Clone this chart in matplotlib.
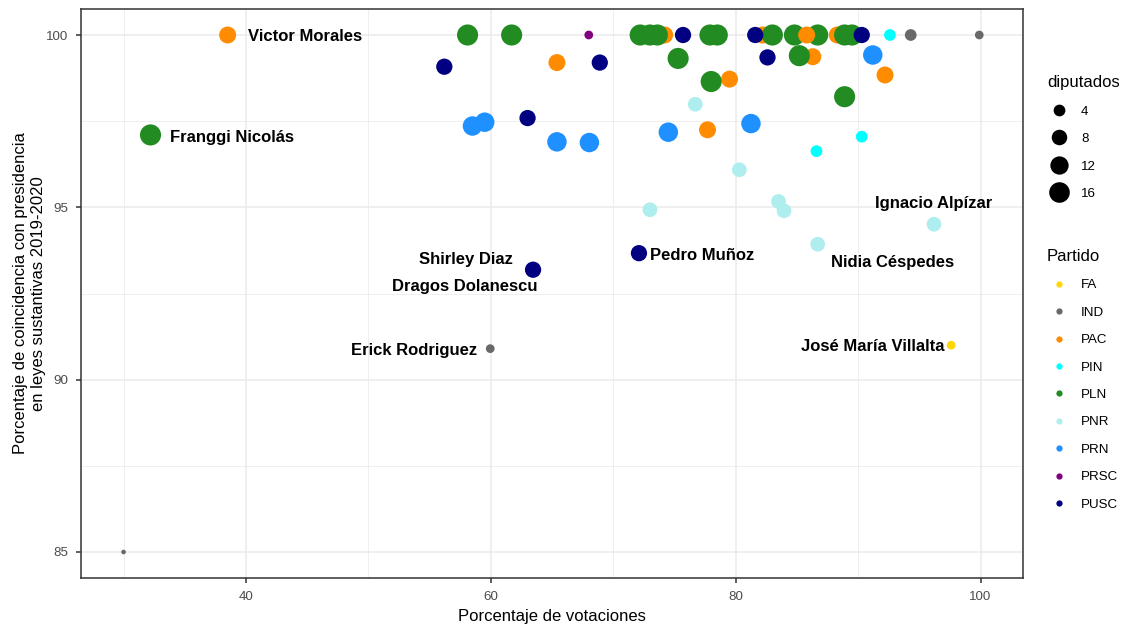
import matplotlib
matplotlib.use("Agg")
import matplotlib.pyplot as plt
from matplotlib.lines import Line2D
import numpy as np

# ---------------- data ----------------
party = ["PAC", "PAC", "PAC", "PAC", "PAC", "PAC", "PAC", "PAC", "PAC",
         "PLN", "PLN", "PLN", "PLN", "PLN", "PLN", "PLN", "PLN", "PLN",
         "PLN", "PLN", "PLN", "PLN", "PLN", "PLN", "PLN", "PLN",
         "PAC",
         "PUSC", "PUSC", "PUSC", "PUSC", "PUSC", "PUSC", "PUSC", "PUSC", "PUSC",
         "PRN", "PRN", "PRN", "PRN", "PRN", "PRN", "PRN",
         "PNR", "PNR", "PNR", "PNR", "PNR", "PNR", "PNR",
         "PIN", "PIN", "PIN",
         "FA", "PRSC", "IND", "IND", "IND", "IND"]
votes = [38.5, 74.2, 82.2, 88.3, 65.4, 86.3, 92.2, 79.5, 77.7,
         58.1, 61.7, 72.2, 73.0, 73.6, 77.9, 78.5, 83.0, 84.8,
         86.7, 88.9, 89.5, 75.3, 85.2, 78.0, 88.9, 32.2,
         85.8,
         75.7, 81.6, 90.3, 56.2, 68.9, 82.6, 63.0, 72.1, 63.45,
         91.2, 74.5, 81.25, 58.5, 59.5, 65.4, 68.05,
         76.7, 80.3, 83.5, 83.95, 73.0, 86.7, 96.2,
         92.6, 90.3, 86.6,
         97.6, 68.0, 94.3, 99.9, 59.95, 30.0]
coincidencia = [100.0, 100.0, 100.0, 100.0, 99.2, 99.37, 98.84, 98.72, 97.25,
                100.0, 100.0, 100.0, 100.0, 100.0, 100.0, 100.0, 100.0, 100.0,
                100.0, 100.0, 100.0, 99.32, 99.4, 98.65, 98.21, 97.1,
                100.0,
                100.0, 100.0, 100.0, 99.08, 99.2, 99.35, 97.59, 93.67, 93.19,
                99.42, 97.18, 97.43, 97.36, 97.47, 96.9, 96.88,
                97.99, 96.09, 95.17, 94.9, 94.93, 93.93, 94.51,
                100.0, 97.05, 96.63,
                91.0, 100.0, 100.0, 100.0, 90.9, 85.0]
diputados = [10, 10, 10, 10, 10, 10, 10, 10, 10,
             17, 17, 17, 17, 17, 17, 17, 17, 17,
             17, 17, 17, 17, 17, 17, 17, 17,
             10,
             9, 9, 9, 9, 9, 9, 9, 9, 9,
             14, 14, 14, 14, 14, 14, 14,
             7, 7, 7, 7, 7, 7, 7,
             4, 4, 4,
             2, 2, 4, 2, 2, 1]

party_levels = ["FA", "IND", "PAC", "PIN", "PLN", "PNR", "PRN", "PRSC", "PUSC"]
party_colors = ["#FFD700", "#696969", "#FF8C00", "#00FFFF", "#228B22",
                "#AFEEEE", "#1E90FF", "#800080", "#000080"]
size_breaks = [4, 8, 12, 16]

label_names = ["Victor Morales", "Franggi Nicolás", "Shirley Diaz",
               "Dragos Dolanescu", "Erick Rodriguez", "Pedro Muñoz",
               "Nidia Céspedes", "Ignacio Alpízar", "José María Villalta"]
label_x = [44.86, 38.86, 58.0, 57.88, 53.76, 77.27, 92.78, 96.16, 91.22]
label_y = [99.97, 97.04, 93.48, 92.70, 90.84, 93.59, 93.39, 95.10, 90.96]

# ---------------- styling ----------------
W, H = 1127, 625
plt.rcParams["font.family"] = ["Liberation Sans", "DejaVu Sans"]
fig = plt.figure(figsize=(W / 100, H / 100), dpi=100)

xlim = (26.5, 103.5)
ylim = (84.25, 100.75)
px_x = lambda v: 246 + (v - 40) * (980.5 - 246) / 60
px_y = lambda v: 35 + (100 - v) * (552 - 35) / 15
left, right = px_x(xlim[0]), px_x(xlim[1])
top, bottom = px_y(ylim[1]), px_y(ylim[0])
ax = fig.add_axes([left / W, 1 - bottom / H, (right - left) / W, (bottom - top) / H])

dmin, dmax = min(diputados), max(diputados)


def dot_px(d):
    size = 1 + 5 * np.sqrt((np.asarray(d, float) - dmin) / (dmax - dmin))
    return 3.3 * size + 1.3


cmap = dict(zip(party_levels, party_colors))
cols = [cmap[p] for p in party]
ax.scatter(votes, coincidencia, s=(dot_px(diputados) * 0.72) ** 2, c=cols,
           linewidths=0, zorder=3)

for name, lx, ly in zip(label_names, label_x, label_y):
    ax.text(lx, ly, name, ha="center", va="center", fontsize=12,
            fontweight="bold", color="black", zorder=4)

ax.set_xlim(*xlim)
ax.set_ylim(*ylim)
ax.set_xticks([40, 60, 80, 100])
ax.set_yticks([85, 90, 95, 100])
ax.set_xticks([30, 50, 70, 90], minor=True)
ax.set_yticks([87.5, 92.5, 97.5], minor=True)
ax.grid(True, which="major", color="#EBEBEB", linewidth=1.1, zorder=0)
ax.grid(True, which="minor", color="#EBEBEB", linewidth=0.55, zorder=0)
ax.set_axisbelow(True)
for sp in ax.spines.values():
    sp.set_color("#333333")
    sp.set_linewidth(1.1)
ax.tick_params(which="major", length=3.3, width=1.1, color="#333333",
               labelcolor="#4D4D4D", labelsize=9.6)
ax.tick_params(axis="x", which="major", pad=6.5)
ax.tick_params(axis="y", which="major", pad=5.5)
ax.tick_params(which="minor", length=0)

ax.set_xlabel("Porcentaje de votaciones", fontsize=12, color="black", labelpad=4)
ax.set_ylabel("Porcentaje de coincidencia con presidencia\nen leyes sustantivas 2019-2020",
              fontsize=12, color="black", linespacing=1.2)
ax.yaxis.set_label_coords(-0.037, 0.5)

# ---------------- legends ----------------
size_handles = [Line2D([], [], marker="o", ls="", color="black", markeredgewidth=0,
                       markersize=float(dot_px(b)) * 0.72) for b in size_breaks]
leg1 = ax.legend(size_handles, [str(b) for b in size_breaks], title="diputados",
                 loc="upper left", bbox_to_anchor=(1047 / W, 1 - 75 / H),
                 bbox_transform=fig.transFigure, frameon=False, fontsize=9.6,
                 title_fontsize=12, alignment="left", borderpad=0,
                 handlelength=1.8, handletextpad=0.75, labelspacing=1.14,
                 borderaxespad=0)
ax.add_artist(leg1)

col_handles = [Line2D([], [], marker="o", ls="", color=c, markeredgewidth=0,
                      markersize=4.5) for c in party_colors]
leg2 = ax.legend(col_handles, party_levels, title="Partido",
                 loc="upper left", bbox_to_anchor=(1047 / W, 1 - 249 / H),
                 bbox_transform=fig.transFigure, frameon=False, fontsize=9.6,
                 title_fontsize=12, alignment="left", borderpad=0,
                 handlelength=1.8, handletextpad=0.75, labelspacing=1.13,
                 borderaxespad=0)

fig.savefig("out.png", dpi=100)
